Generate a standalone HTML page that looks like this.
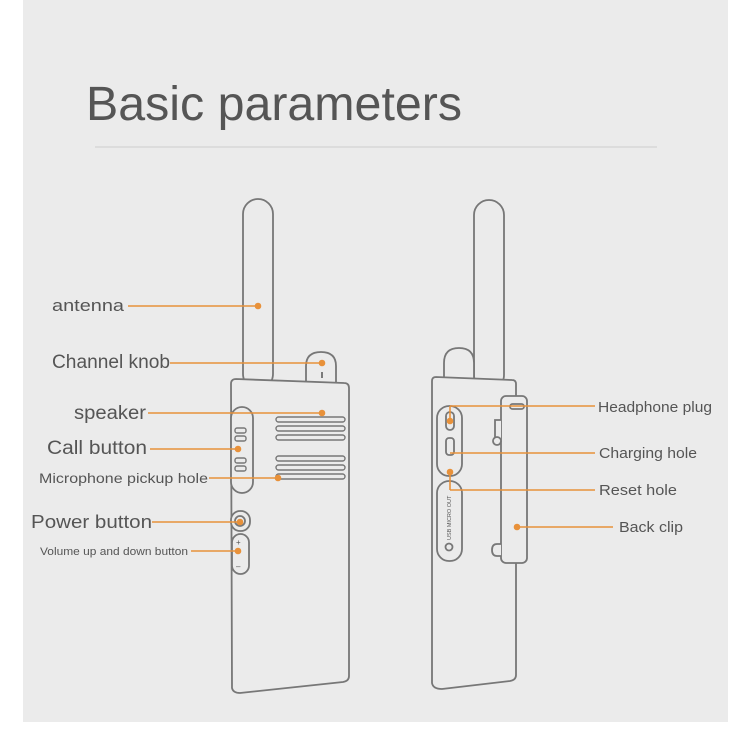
<!DOCTYPE html>
<html><head><meta charset="utf-8"><style>
html,body{margin:0;padding:0;background:#fff;}
svg{display:block}
text{font-family:"Comic Sans MS","Liberation Sans",sans-serif;fill:#555;}
</style></head><body>
<svg width="751" height="751" viewBox="0 0 751 751" xmlns="http://www.w3.org/2000/svg">
<rect x="23" y="0" width="705" height="722" fill="#ebebeb"/>
<text x="86" y="120" font-size="48" fill="#3f3f3f" textLength="376" lengthAdjust="spacingAndGlyphs">Basic parameters</text>
<line x1="95" y1="147" x2="657" y2="147" stroke="#d8d8d8" stroke-width="1.5"/>
<g fill="#ebebeb" stroke="#777" stroke-width="1.8">
<rect x="243" y="199" width="30" height="190" rx="15"/>
<path d="M306,382 L306,366 Q306,352 321,352 Q336,352 336,366 L336,383"/>
<path d="M236,379 L344,383 Q349,383 349,388 L349,676 Q349,681 343,682 L240,693 Q233,693 232,688 L231,384 Q231,379 236,379 Z"/>
<rect x="231" y="407" width="22" height="86" rx="11"/>
<rect x="231" y="511" width="19" height="20" rx="9"/>
<circle cx="240" cy="521" r="5"/>
<rect x="232" y="534" width="17" height="40" rx="8.5"/>
</g>
<g fill="none" stroke="#777" stroke-width="1.4">
<rect x="276" y="417" width="69" height="5" rx="2.5"/><rect x="276" y="426" width="69" height="5" rx="2.5"/><rect x="276" y="435" width="69" height="5" rx="2.5"/>
<rect x="276" y="456" width="69" height="5" rx="2.5"/><rect x="276" y="465" width="69" height="5" rx="2.5"/><rect x="276" y="474" width="69" height="5" rx="2.5"/>
<rect x="235" y="428" width="11" height="5" rx="2"/><rect x="235" y="436" width="11" height="5" rx="2"/>
<rect x="235" y="458" width="11" height="5" rx="2"/><rect x="235" y="466" width="11" height="5" rx="2"/>
</g>
<line x1="322" y1="372" x2="322" y2="378" stroke="#555" stroke-width="1.5"/>
<text x="236" y="545" font-size="8">+</text><text x="236" y="569" font-size="8">–</text>
<g fill="#ebebeb" stroke="#777" stroke-width="1.8">
<rect x="474" y="200" width="30" height="190" rx="15"/>
<path d="M444,380 L444,363 Q444,348 459,348 Q474,348 474,363 L474,380"/>
<path d="M436,377 L512,380 Q516,380 516,384 L516,675 Q516,680 510,681 L442,689 Q433,689 432,683 L432,381 Q432,377 436,377 Z"/>
<rect x="437" y="406" width="25" height="70" rx="12"/>
<rect x="437" y="481" width="25" height="80" rx="12"/>
<rect x="501" y="396" width="26" height="167" rx="5"/>
<rect x="510" y="404" width="14" height="5" rx="2.5"/>
<rect x="446" y="412" width="8" height="18" rx="4"/>
<rect x="446" y="438" width="8" height="17" rx="3"/>
<circle cx="449" cy="547" r="3.5"/>
<path d="M501,420 L495,420 L495,440 L501,440"/>
<circle cx="497" cy="441" r="4"/>
<path d="M501,544 L497,544 Q492,544 492,550 Q492,556 497,556 L501,556"/>
</g>
<text x="451" y="540" font-size="5.5" transform="rotate(-90 451 540)">USB MICRO OUT</text>
<g stroke="#e8913a" stroke-width="1.6" fill="#e8913a">
<line x1="128" y1="306" x2="258" y2="306"/><circle cx="258" cy="306" r="2.5"/>
<line x1="170" y1="363" x2="322" y2="363"/><circle cx="322" cy="363" r="2.5"/>
<line x1="148" y1="413" x2="322" y2="413"/><circle cx="322" cy="413" r="2.5"/>
<line x1="150" y1="449" x2="238" y2="449"/><circle cx="238" cy="449" r="2.5"/>
<line x1="209" y1="478" x2="278" y2="478"/><circle cx="278" cy="478" r="2.5"/>
<line x1="152" y1="522" x2="240" y2="522"/><circle cx="240" cy="522" r="2.5"/>
<line x1="191" y1="551" x2="238" y2="551"/><circle cx="238" cy="551" r="2.5"/>
<line x1="450" y1="406" x2="595" y2="406"/><line x1="450" y1="406" x2="450" y2="420"/><circle cx="450" cy="421" r="2.5"/>
<line x1="450" y1="453" x2="595" y2="453"/>
<line x1="450" y1="490" x2="595" y2="490"/><line x1="450" y1="472" x2="450" y2="490"/><circle cx="450" cy="472" r="2.5"/>
<line x1="517" y1="527" x2="613" y2="527"/><circle cx="517" cy="527" r="2.5"/>
</g>
<text x="52" y="311" font-size="17" textLength="72" lengthAdjust="spacingAndGlyphs">antenna</text>
<text x="52" y="368" font-size="19" textLength="118" lengthAdjust="spacingAndGlyphs">Channel knob</text>
<text x="74" y="419" font-size="19" textLength="72" lengthAdjust="spacingAndGlyphs">speaker</text>
<text x="47" y="454" font-size="19" textLength="100" lengthAdjust="spacingAndGlyphs">Call button</text>
<text x="39" y="483" font-size="14" textLength="169" lengthAdjust="spacingAndGlyphs">Microphone pickup hole</text>
<text x="31" y="528" font-size="18" textLength="121" lengthAdjust="spacingAndGlyphs">Power button</text>
<text x="40" y="555" font-size="11" textLength="148" lengthAdjust="spacingAndGlyphs">Volume up and down button</text>
<text x="598" y="412" font-size="15" textLength="114" lengthAdjust="spacingAndGlyphs">Headphone plug</text>
<text x="599" y="458" font-size="15" textLength="98" lengthAdjust="spacingAndGlyphs">Charging hole</text>
<text x="599" y="495" font-size="15" textLength="78" lengthAdjust="spacingAndGlyphs">Reset hole</text>
<text x="619" y="532" font-size="15" textLength="64" lengthAdjust="spacingAndGlyphs">Back clip</text>
</svg>
</body></html>
